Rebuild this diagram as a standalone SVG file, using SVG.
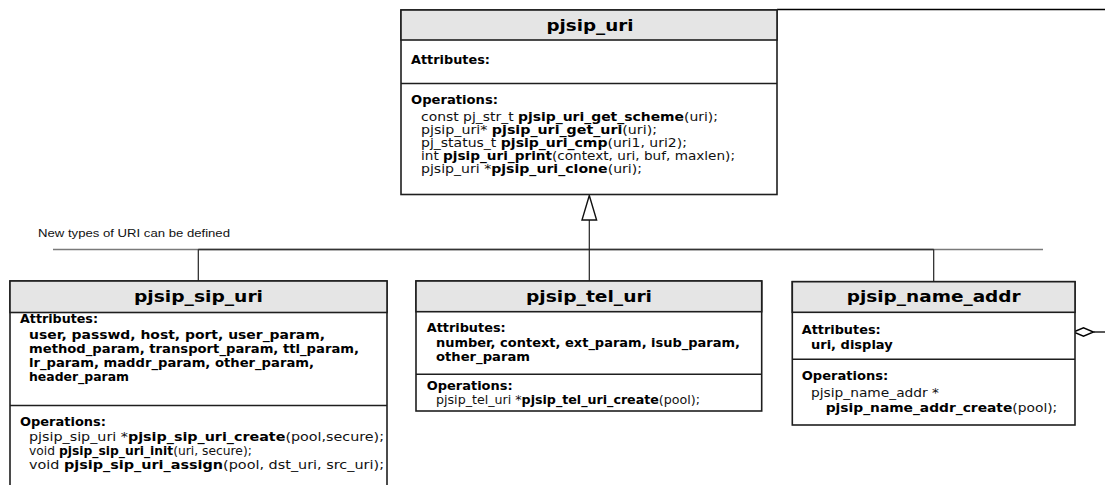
<svg xmlns="http://www.w3.org/2000/svg" width="1105" height="485" viewBox="0 0 1105 485">
<style>
.box{fill:#fff;stroke:#1e1e1e;stroke-width:1.6}
.hdr{fill:#e5e5e5;stroke:#1e1e1e;stroke-width:1.6}
.div{stroke:#1e1e1e;stroke-width:1.6}
.title{font-family:"DejaVu Sans",Verdana,sans-serif;font-size:16.5px;font-weight:bold;text-anchor:middle;fill:#000}
.lbl{font-family:"DejaVu Sans",Verdana,sans-serif;font-size:12.3px;font-weight:bold;fill:#000}
.txt{font-family:"DejaVu Sans",Verdana,sans-serif;font-size:12.3px;fill:#111}
.b{font-weight:bold;fill:#000}
.note{font-family:"Liberation Sans",Arial,sans-serif;font-size:10.5px;fill:#111}
.conn{stroke:#222;stroke-width:1.2;fill:none}
.bus{stroke:#7a7a7a;stroke-width:1.6}
.busd{stroke:#333;stroke-width:1.6}
</style>
<rect width="1105" height="485" fill="#fff"/>
<g id="connectors">
  <line class="bus" x1="53" y1="249.5" x2="1043" y2="249.5"/>
  <line class="busd" x1="198.3" y1="249.5" x2="933.7" y2="249.5"/>
  <line class="conn" x1="198.3" y1="249.5" x2="198.3" y2="281"/>
  <line class="conn" x1="589.3" y1="220" x2="589.3" y2="281"/>
  <line class="conn" x1="933.7" y1="249.5" x2="933.7" y2="281.7"/>
  <polygon points="589.3,195.5 582,220 596.6,220" fill="#fff" stroke="#111" stroke-width="1.4"/>
  <line x1="777" y1="9.5" x2="1105" y2="9.5" stroke="#000" stroke-width="1.3"/>
  <line x1="1093.5" y1="332" x2="1105" y2="332" stroke="#000" stroke-width="1.3"/>
  <polygon points="1073.5,332 1083.5,327.8 1093.5,332 1083.5,336.2" fill="#fff" stroke="#000" stroke-width="1.4"/>
  <text class="note" x="38" y="236.5" textLength="192" lengthAdjust="spacingAndGlyphs">New types of URI can be defined</text>
</g>
<g id="pjsip_uri">
  <rect class="box" x="401" y="10" width="376" height="184.5"/>
  <rect class="hdr" x="401" y="10" width="376" height="30"/>
  <line class="div" x1="401" y1="83.5" x2="777" y2="83.5"/>
  <text class="title" x="590" y="31" textLength="87" lengthAdjust="spacingAndGlyphs">pjsip_uri</text>
  <text class="lbl" x="411" y="64" textLength="79" lengthAdjust="spacingAndGlyphs">Attributes:</text>
  <text class="lbl" x="411" y="104" textLength="87" lengthAdjust="spacingAndGlyphs">Operations:</text>
  <text class="txt" x="421" y="121" textLength="297" lengthAdjust="spacingAndGlyphs">const pj_str_t <tspan class="b">pjsip_uri_get_scheme</tspan>(uri);</text>
  <text class="txt" x="421" y="134" textLength="236" lengthAdjust="spacingAndGlyphs">pjsip_uri* <tspan class="b">pjsip_uri_get_uri</tspan>(uri);</text>
  <text class="txt" x="421" y="147" textLength="266" lengthAdjust="spacingAndGlyphs">pj_status_t <tspan class="b">pjsip_uri_cmp</tspan>(uri1, uri2);</text>
  <text class="txt" x="421" y="160" textLength="314" lengthAdjust="spacingAndGlyphs">int <tspan class="b">pjsip_uri_print</tspan>(context, uri, buf, maxlen);</text>
  <text class="txt" x="421" y="173" textLength="221" lengthAdjust="spacingAndGlyphs">pjsip_uri *<tspan class="b">pjsip_uri_clone</tspan>(uri);</text>
</g>
<g id="pjsip_sip_uri">
  <rect class="box" x="10" y="281" width="377" height="220"/>
  <rect class="hdr" x="10" y="281" width="377" height="31.5"/>
  <line class="div" x1="10" y1="405.5" x2="387" y2="405.5"/>
  <text class="title" x="198.5" y="302" textLength="129" lengthAdjust="spacingAndGlyphs">pjsip_sip_uri</text>
  <text class="lbl" x="20" y="323" textLength="78" lengthAdjust="spacingAndGlyphs">Attributes:</text>
  <text class="lbl" x="29" y="339" textLength="296" lengthAdjust="spacingAndGlyphs">user, passwd, host, port, user_param,</text>
  <text class="lbl" x="29" y="353" textLength="330" lengthAdjust="spacingAndGlyphs">method_param, transport_param, ttl_param,</text>
  <text class="lbl" x="29" y="367" textLength="285" lengthAdjust="spacingAndGlyphs">lr_param, maddr_param, other_param,</text>
  <text class="lbl" x="29" y="381" textLength="100" lengthAdjust="spacingAndGlyphs">header_param</text>
  <text class="lbl" x="20" y="426" textLength="86" lengthAdjust="spacingAndGlyphs">Operations:</text>
  <text class="txt" x="29" y="441" textLength="355" lengthAdjust="spacingAndGlyphs">pjsip_sip_uri *<tspan class="b">pjsip_sip_uri_create</tspan>(pool,secure);</text>
  <text class="txt" x="29" y="455">void <tspan class="b">pjsip_sip_uri_init</tspan>(uri, secure);</text>
  <text class="txt" x="29" y="469" textLength="355" lengthAdjust="spacingAndGlyphs">void <tspan class="b">pjsip_sip_uri_assign</tspan>(pool, dst_uri, src_uri);</text>
</g>
<g id="pjsip_tel_uri">
  <rect class="box" x="416" y="281" width="345.7" height="130"/>
  <rect class="hdr" x="416" y="281" width="345.7" height="30.7"/>
  <line class="div" x1="416" y1="374.3" x2="761.7" y2="374.3"/>
  <text class="title" x="589" y="302" textLength="126" lengthAdjust="spacingAndGlyphs">pjsip_tel_uri</text>
  <text class="lbl" x="426.7" y="332" textLength="79" lengthAdjust="spacingAndGlyphs">Attributes:</text>
  <text class="lbl" x="436" y="347" textLength="304" lengthAdjust="spacingAndGlyphs">number, context, ext_param, isub_param,</text>
  <text class="lbl" x="436" y="361" textLength="94" lengthAdjust="spacingAndGlyphs">other_param</text>
  <text class="lbl" x="426.7" y="390" textLength="86" lengthAdjust="spacingAndGlyphs">Operations:</text>
  <text class="txt" x="436" y="404" textLength="264" lengthAdjust="spacingAndGlyphs">pjsip_tel_uri *<tspan class="b">pjsip_tel_uri_create</tspan>(pool);</text>
</g>
<g id="pjsip_name_addr">
  <rect class="box" x="792.3" y="281.7" width="282.7" height="143.3"/>
  <rect class="hdr" x="792.3" y="281.7" width="282.7" height="30.6"/>
  <line class="div" x1="792.3" y1="359.3" x2="1075" y2="359.3"/>
  <text class="title" x="933.7" y="302" textLength="174" lengthAdjust="spacingAndGlyphs">pjsip_name_addr</text>
  <text class="lbl" x="801.7" y="333.5" textLength="79" lengthAdjust="spacingAndGlyphs">Attributes:</text>
  <text class="lbl" x="811" y="348.5" textLength="81.7" lengthAdjust="spacingAndGlyphs">uri, display</text>
  <text class="lbl" x="801.7" y="380" textLength="86.6" lengthAdjust="spacingAndGlyphs">Operations:</text>
  <text class="txt" x="811" y="396.5" textLength="128" lengthAdjust="spacingAndGlyphs">pjsip_name_addr *</text>
  <text class="txt" x="825.7" y="411.5" textLength="231.6" lengthAdjust="spacingAndGlyphs"><tspan class="b">pjsip_name_addr_create</tspan>(pool);</text>
</g>
</svg>
